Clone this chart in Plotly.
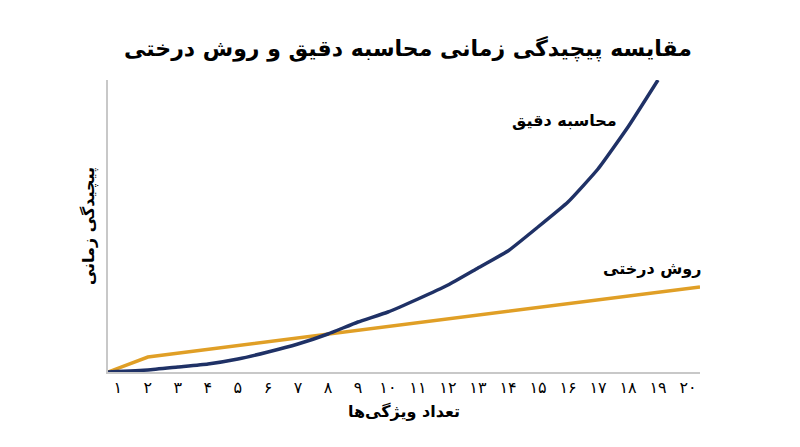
import plotly.graph_objects as go

# Data (y = relative time complexity, arbitrary units)
exact_x = [0.67, 2, 3, 4, 5, 6, 7, 8, 9, 10, 11, 12, 13, 14, 15, 16, 17, 18, 19]
exact_y = [0, 2, 5, 8, 13, 20, 28, 38, 50, 60, 73, 87, 104, 121, 145, 170, 203, 245, 292]

tree_x = [0.67, 2, 20.4]
tree_y = [0, 15, 85]

tick_vals = list(range(1, 21))
tick_text = ['۱', '۲', '۳', '۴', '۵', '۶', '۷', '۸', '۹', '۱۰',
             '۱۱', '۱۲', '۱۳', '۱۴', '۱۵', '۱۶', '۱۷', '۱۸', '۱۹', '۲۰']

FONT = 'DejaVu Sans'

fig = go.Figure()

fig.add_trace(go.Scatter(x=tree_x, y=tree_y, mode='lines', name='روش درختی',
                         line=dict(color='#e09f26', width=3.5)))
fig.add_trace(go.Scatter(x=exact_x, y=exact_y, mode='lines', name='محاسبه دقیق',
                         line=dict(color='#1f3166', width=3.5, shape='spline', smoothing=0.4)))

fig.add_annotation(x=15.9, y=252, text='<b>محاسبه دقیق</b>', showarrow=False,
                   font=dict(family=FONT, size=16, color='black'))
fig.add_annotation(x=18.8, y=104, text='<b>روش درختی</b>', showarrow=False,
                   font=dict(family=FONT, size=16, color='black'))

fig.update_layout(
    width=800, height=447,
    margin=dict(l=100, r=108, t=72, b=83),
    paper_bgcolor='white', plot_bgcolor='white',
    showlegend=False,
    title=dict(text='<b>مقایسه پیچیدگی زمانی محاسبه دقیق و روش درختی</b>',
               x=0.5, xanchor='center', y=0.91, yanchor='middle',
               font=dict(family=FONT, size=22, color='black')),
    xaxis=dict(range=[0.67, 20.4], tickvals=tick_vals, ticktext=tick_text,
               showgrid=False, zeroline=False, showline=True, linecolor='#c8c8c8',
               linewidth=1.5, ticks='', tickfont=dict(family=FONT, size=16, color='black'),
               title=dict(text='<b>تعداد ویژگی‌ها</b>', standoff=10,
                          font=dict(family=FONT, size=16, color='black'))),
    yaxis=dict(range=[0, 292], showticklabels=False, showgrid=False, zeroline=False,
               showline=True, linecolor='#c8c8c8', linewidth=1.5, ticks='',
               title=dict(text='<b>پیچیدگی زمانی</b>', standoff=8,
                          font=dict(family=FONT, size=16, color='black'))),
)

fig.write_html("out.html")
